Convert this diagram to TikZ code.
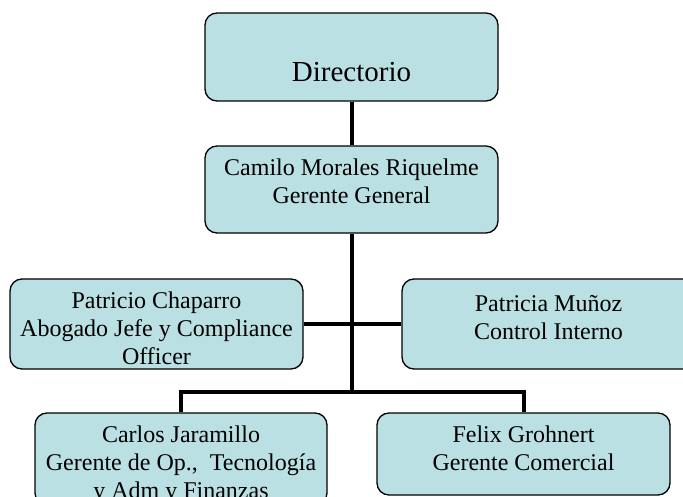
\documentclass[tikz,border=0pt]{standalone}
\usepackage{fontspec}
\setmainfont{Liberation Serif}
\definecolor{boxblue}{HTML}{BBE0E3}
\tikzset{
  orgbox/.style = {draw=black, line width=1.3pt, fill=boxblue, rounded corners=12pt,
                   minimum width=293pt, minimum height=88pt, inner sep=0pt},
  orgtext/.style = {align=center, inner sep=0pt, font=\fontsize{24}{28}\selectfont},
  link/.style = {line width=4pt, black}
}
\begin{document}
\begin{tikzpicture}[x=1pt, y=-1pt]
   \useasboundingbox (0,0) rectangle (683,497);
   \node[orgbox, label={[orgtext, font=\fontsize{29}{34}\selectfont, yshift=-15pt]center:Directorio}] (dir) at (351.5,57) {};
   \node[orgbox, minimum height=87pt, label={[orgtext, yshift=8.5pt]center:{Camilo Morales Riquelme\\Gerente General}}] (gg) at (351.5,189.5) {};
   \node[orgbox, minimum height=90pt, label={[orgtext, yshift=-4pt]center:{Patricio Chaparro\\Abogado Jefe y Compliance\\Officer}}] (legal) at (156.5,324) {};
   \node[orgbox, minimum height=90pt, label={[orgtext, yshift=6pt]center:{Patricia Muñoz\\Control Interno}}] (ctrl) at (548.5,324) {};
   \node[orgbox, minimum width=292pt, minimum height=92pt, label={[orgtext, yshift=-6pt]center:{Carlos Jaramillo\\Gerente de Op.,\ \ Tecnología\\y Adm y Finanzas}}] (ops) at (181,459) {};
   \node[orgbox, minimum height=82pt, label={[orgtext, yshift=5.5pt]center:{Felix Grohnert\\Gerente Comercial}}] (com) at (523.5,454) {};
   \coordinate (split) at (gg.south |- 0,392);
   \draw[link] (dir) -- (gg);
   \draw[link] (gg) -- (split);
   \draw[link] (legal) -- (ctrl);
   \draw[link] (ops.north) |- (split) -| (com.north);
\end{tikzpicture}
\end{document}
